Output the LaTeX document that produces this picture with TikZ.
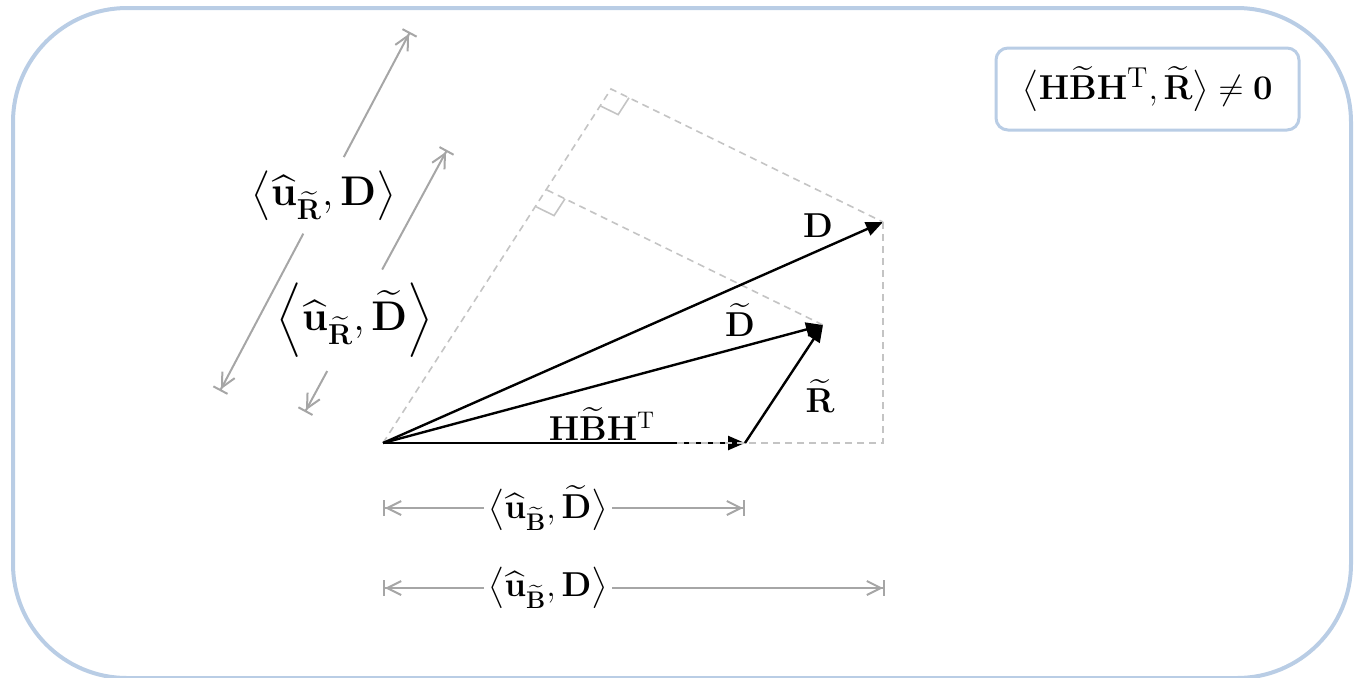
\documentclass[tikz,border=0pt]{standalone}
\usepackage{amsmath}
\usepackage{bm}
\usetikzlibrary{arrows.meta, calc, positioning}
\definecolor{frame-blue}{HTML}{B9CDE5}
\definecolor{dim-gray}{HTML}{A6A6A6}
\definecolor{guide-gray}{HTML}{C4C4C4}
\newcommand{\btilde}[1]{\boldsymbol{\widetilde{\mathbf{#1}}}}
\newcommand{\bhat}[1]{\boldsymbol{\widehat{\mathbf{#1}}}}

\begin{document}
\begin{tikzpicture}[
    x=0.5pt, y=-0.5pt,
    vec/.style={-{Triangle[length=8.5pt,width=7pt]}, line width=1.2pt},
    guide/.style={guide-gray, dash pattern=on 3.5pt off 2.5pt, line width=0.8pt},
    rightmark/.style={guide-gray, line width=0.8pt},
    dim/.style={dim-gray, line width=1pt, -{Straight Barb[length=7pt,width=7pt]Bar[width=8pt]}},
    lbl/.style={font=\fontsize{18}{22}\selectfont, inner sep=1pt},
    dimlbl/.style={lbl, inner xsep=2pt, inner ysep=2pt},
    tiltlbl/.style={font=\fontsize{20}{24}\selectfont, inner xsep=1pt, inner ysep=6.5pt}
]
    \useasboundingbox (0,0) rectangle (1355,677);
    \draw [frame-blue, line width=2pt, rounded corners=57pt] (13,8) rectangle (1351,678);

    \coordinate (O) at (383,443);
    \coordinate (B) at (745,443);
    \coordinate (Dt) at (823,325);
    \coordinate (D) at (883,222);
    \coordinate (C1) at (611,89);
    \coordinate (C2) at (547,190);
    \coordinate (F) at (883,443);
    \coordinate (Fs) at (673,443);

    % projections
    \draw [guide] (O) -- (C1) -- (D);
    \draw [guide] (C2) -- (Dt);
    \coordinate (m1a) at ($(C1)!10pt!(O)$);
    \coordinate (m1b) at ($(C1)!10pt!(D)$);
    \draw [rightmark] (m1a) -- ($(m1a)+(m1b)-(C1)$) -- (m1b);
    \coordinate (m2a) at ($(C2)!10pt!(O)$);
    \coordinate (m2b) at ($(C2)!10pt!(Dt)$);
    \draw [rightmark] (m2a) -- ($(m2a)+(m2b)-(C2)$) -- (m2b);

    % vectors
    \draw [vec] (O) -- (D);
    \draw [vec] (O) -- (Dt);
    \draw [vec] (O) -- (B);
    \draw [vec] (B) -- (Dt);
    \draw [guide] (D) -- (F) -- (Fs);

    \node (lD) [lbl] at (818,226) {$\mathbf{D}$};
    \node (lDt) [lbl] at (740,320) {$\btilde{D}$};
    \node (lRt) [lbl] at (820,396) {$\btilde{R}$};
    \node (lHBH) [lbl] at (602,424) {$\mathbf{H}\btilde{B}\mathbf{H}^{\mathrm{T}}$};

    % inner products
    \coordinate (r1a) at (220,391);
    \coordinate (r1b) at (410,32);
    \coordinate (r2a) at (305,412);
    \coordinate (r2b) at (447,150);
    \coordinate (b1a) at (383,508);
    \coordinate (b1b) at (745,508);
    \coordinate (b2a) at (383,588);
    \coordinate (b2b) at (885,588);
    \node (uRD) [tiltlbl] at ($(r1a)!0.545!(r1b)$) {$\bigl\langle \bhat{u}_{\btilde{R}}, \mathbf{D} \bigr\rangle$};
    \node (uRDt) [tiltlbl] at ($(r2a)!0.35!(r2b)$) {$\Bigl\langle \bhat{u}_{\btilde{R}}, \btilde{D} \Bigr\rangle$};
    \node (uBDt) [dimlbl] at (548,508) {$\bigl\langle \bhat{u}_{\btilde{B}}, \btilde{D} \bigr\rangle$};
    \node (uBD) [dimlbl] at (548,588) {$\bigl\langle \bhat{u}_{\btilde{B}}, \mathbf{D} \bigr\rangle$};
    \draw [dim] (uRD) -- (r1a);
    \draw [dim] (uRD) -- (r1b);
    \draw [dim] (uRDt) -- (r2a);
    \draw [dim] (uRDt) -- (r2b);
    \draw [dim] (uBDt) -- (b1a);
    \draw [dim] (uBDt) -- (b1b);
    \draw [dim] (uBD) -- (b2a);
    \draw [dim] (uBD) -- (b2b);

    \node (cond) [font=\fontsize{19}{23}\selectfont, draw=frame-blue, line width=1.5pt, rounded corners=6pt, minimum width=151.5pt, minimum height=41pt] at (1147.5,89)
        {$\bigl\langle \mathbf{H}\btilde{B}\mathbf{H}^{\mathrm{T}}, \btilde{R} \bigr\rangle \neq \mathbf{0}$};
\end{tikzpicture}
\end{document}
